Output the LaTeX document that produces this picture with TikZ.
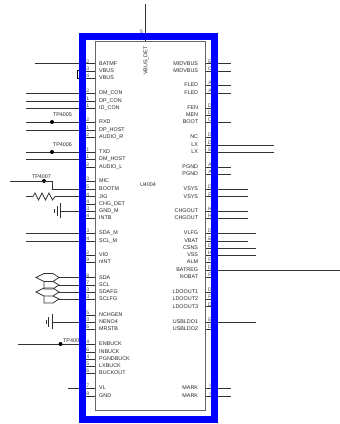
\documentclass[tikz,border=0pt]{standalone}
\usepackage{fontspec}
\setmainfont{Liberation Sans}
\usepackage{xcolor}
\definecolor{pinwire}{gray}{0.2}
\tikzset{
	pinlabel/.style={inner sep=0pt, font=\fontsize{5.4}{6}\selectfont, text=black!85},
	pinnum/.style={inner sep=0pt, font=\fontsize{5}{6}\selectfont, text=black!75},
	wire/.style={draw=pinwire, line width=0.8pt},
	testdot/.style={circle, fill=black, inner sep=0pt, minimum size=4pt}
}
\begin{document}
\begin{tikzpicture}[x=1pt, y=-1pt]
	\useasboundingbox (0, 0) rectangle (340, 424);
	\coordinate (BoxNW) at (95, 41);
	\coordinate (BoxSE) at (205, 410);

	% left pins: y / name / number / free end of the wire
	\foreach \y/\pinname/\pinno/\wireend [count=\i] in {
		63.7/BATMF/2/35, 71/VBUS/3/86, 78/VBUS/4/86,
		93/DM\_CON/2/26, 101/DP\_CON/1/26, 108/ID\_CON/1/26,
		122/RXD/2/26, 130/DP\_HOST/1/26, 137/AUDIO\_R/2/86,
		152/TXD/1/26, 159/DM\_HOST/1/26, 167/AUDIO\_L/2/86,
		181/MIC/3/86, 189/BOOTM/5/52, 196.5/JIG/4/55, 204/CHG\_DET/4/86, 211/GND\_M/3/61, 218/INTB/4/86,
		233/SDA\_M/3/26, 241/SCL\_M/4/26,
		255/VID/2/86, 262/nINT/9/86,
		277.5/SDA/8/59, 285/SCL/7/59, 292/SDAFG/3/59, 299/SCLFG/3/59,
		315/NCHGEN/5/86, 322/NENO4/3/52, 329/MRSTB/6/86,
		344/ENBUCK/4/18, 352/INBUCK/6/86, 359/PGNDBUCK/4/86, 366/LXBUCK/5/86, 373/BUCKOUT/6/86,
		388/VL/7/68, 396/GND/9/86} {
		\coordinate (PinL\i) at (95, \y);
		\coordinate (EndL\i) at (\wireend, \y);
		\draw[wire] (EndL\i) -- (PinL\i);
		\node[pinlabel, anchor=west] (LabelL\i) at (99, \y) {\pinname};
		\node[pinnum, anchor=south] (NumL\i) at (87.8, \y) {\pinno};
	}

	% right pins
	\foreach \y/\pinname/\pinno/\wireend [count=\i] in {
		63.7/MIDVBUS/E/231, 71/MIDVBUS/C/231,
		85/FLED/A/231, 93/FLED/A/231,
		108/FEN/D/211, 115/MEN/D/211, 122/BOOT/C/231,
		137/NC/D/211, 145/LX/D/273.6, 152/LX/E/273.6,
		167/PGND/A/231, 174/PGND/A/231,
		189/VSYS/D/248, 196.5/VSYS/F/248,
		211/CHGOUT/H/248, 218/CHGOUT/H/248,
		233/VLFG/D/256, 241/VBAT/E/248, 248/CSNS/D/256, 255/VSS/H/256, 262/ALM/F/211, 270/BATREG/D/340, 277/NOBAT/F/211,
		292/LDOOUT1/D/211, 299/LDOOUT2/F/211, 306.5/LDOOUT3/D/211,
		322/USBLDO1/E/256, 329/USBLDO2/D/211,
		388/MARK/I/231, 396/MARK/I/231} {
		\coordinate (PinR\i) at (205, \y);
		\coordinate (EndR\i) at (\wireend, \y);
		\draw[wire] (PinR\i) -- (EndR\i);
		\node[pinlabel, anchor=east] (LabelR\i) at (198.3, \y) {\pinname};
		\node[pinnum, anchor=south] (NumR\i) at (210, \y) {\pinno};
	}

	% top pin
	\coordinate (TopEnd) at (145.5, 4);
	\coordinate (TopPin) at (145.5, 41);
	\draw[wire] (TopEnd) -- (TopPin);
	\node[pinlabel, rotate=90, anchor=east] (VbusDet) at (146, 46) {VBUS\_DET};
	\node[pinnum] (TopNum) at (141.5, 32) {5};
	\node[pinlabel] (Chip) at (148, 185) {U4004};

	% small box on VBUS
	\draw[line width=0.8pt] (80, 70.7) -- (77.3, 70.7) -- (77.3, 78.6) -- (80, 78.6);

	% test points
	\node[pinlabel] (TpFive) at (62.5, 114.6) {TP4005};
	\node[testdot] (DotFive) at (52, 122) {};
	\node[pinlabel] (TpSix) at (62.5, 145) {TP4006};
	\node[testdot] (DotSix) at (52, 152) {};
	\node[pinlabel] (TpSeven) at (41.5, 177) {TP4007};
	\node[testdot] (DotSeven) at (44, 181) {};
	\node[pinlabel, anchor=west] (TpEight) at (63, 341) {TP400};
	\node[testdot] (DotEight) at (60.5, 344) {};
	\coordinate (MicEnd) at (10, 181);
	\draw[wire] (MicEnd) -- (52, 181) -- (EndL14);

	% JIG resistor
	\coordinate (ResEnd) at (26, 196.5);
	\draw[wire] (ResEnd) -- (33, 196.5) -- (35, 193) -- (38.5, 200) -- (42, 193) -- (45.5, 200) -- (49, 193) -- (52.5, 200) -- (EndL15);

	% grounds
	\draw[wire] (60.5, 203) -- (60.5, 218) (57, 206) -- (57, 215.5) (54.5, 209) -- (54.5, 213);
	\draw[wire] (52, 314) -- (52, 329) (48.5, 317) -- (48.5, 326.5) (46, 320) -- (46, 324);

	% bus connectors
	\draw[wire] (36, 277.5) -- (44, 273.5) -- (53, 273.5) -- (EndL23) -- (53, 281.5) -- (44, 281.5) -- cycle;
	\draw[wire] (44, 281.5) -- (44, 289) -- (53, 289) -- (EndL24) -- (53, 281.5);
	\draw[wire] (36, 292) -- (44, 288) -- (53, 288) -- (EndL25) -- (53, 296) -- (44, 296) -- cycle;
	\draw[wire] (44, 296) -- (44, 303) -- (53, 303) -- (EndL26) -- (53, 296);

	% outline of the chip, blue frame on top
	\draw[black!60, line width=1pt] (BoxNW) rectangle (BoxSE);
	\draw[blue, line width=7pt] (82.5, 36.5) rectangle (214.5, 419);
\end{tikzpicture}
\end{document}
